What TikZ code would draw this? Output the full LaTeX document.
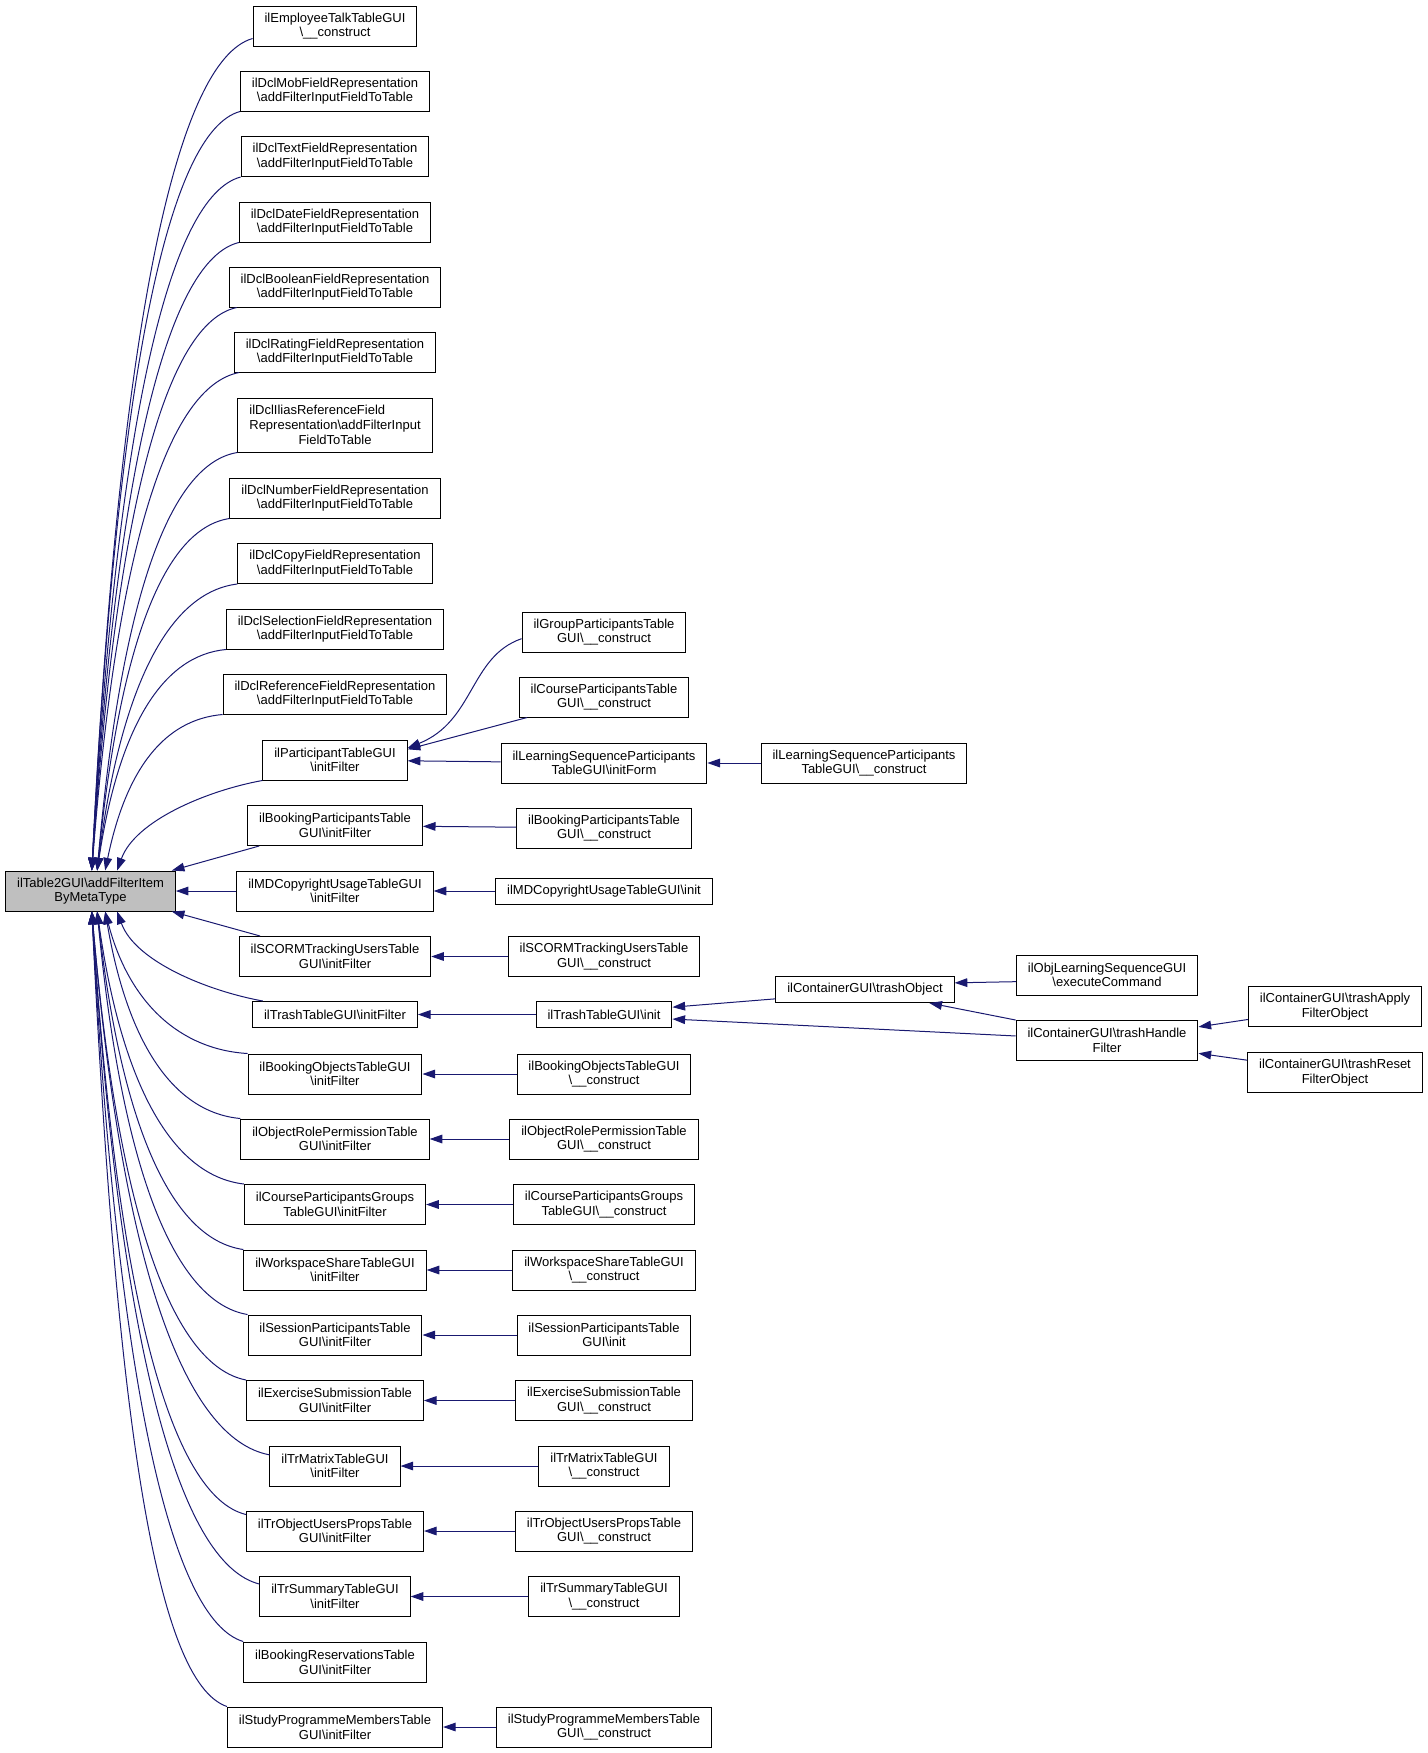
\documentclass[tikz,border=0pt]{standalone}
\usepackage{fontspec}
\setmainfont{Liberation Sans}
\usetikzlibrary{arrows.meta}
\definecolor{edgeblue}{HTML}{191970}
\definecolor{rootgray}{HTML}{BFBFBF}
\newcommand{\bsl}{\textbackslash}

\begin{document}
\begin{tikzpicture}
[
    x=0.75pt, y=-0.75pt,
    fn/.style={draw=black, line width=0.75pt, align=center, inner xsep=8.6pt, inner ysep=2pt, minimum height=30pt, font=\fontsize{9.75}{11}\selectfont},
    oneline/.style={fn, minimum height=19.5pt},
    current/.style={fn, fill=rootgray},
    call/.style={-{Triangle[length=9.5pt,width=6.5pt]}, draw=edgeblue, line width=0.75pt},
]
\useasboundingbox (0,0) rectangle (1428,1753);

\node [current] (root) at (90.5,891) {ilTable2GUI\bsl addFilterItem\\ByMetaType};

\node [fn] (employee) at (335,26) {ilEmployeeTalkTableGUI\\\bsl\_\_construct};
\node [fn] (dclmob) at (335,91) {ilDclMobFieldRepresentation\\\bsl addFilterInputFieldToTable};
\node [fn] (dcltext) at (335,156.5) {ilDclTextFieldRepresentation\\\bsl addFilterInputFieldToTable};
\node [fn] (dcldate) at (335,222) {ilDclDateFieldRepresentation\\\bsl addFilterInputFieldToTable};
\node [fn] (dclbool) at (335,287) {ilDclBooleanFieldRepresentation\\\bsl addFilterInputFieldToTable};
\node [fn] (dclrating) at (335,352) {ilDclRatingFieldRepresentation\\\bsl addFilterInputFieldToTable};
\node [fn, minimum height=40.5pt] (dclilias) at (335,425)
    {\rlap{ilDclIliasReferenceField}\phantom{Representation\bsl addFilterInput}\\Representation\bsl addFilterInput\\FieldToTable};
\node [fn] (dclnumber) at (335,498) {ilDclNumberFieldRepresentation\\\bsl addFilterInputFieldToTable};
\node [fn] (dclcopy) at (335,563.5) {ilDclCopyFieldRepresentation\\\bsl addFilterInputFieldToTable};
\node [fn] (dclselect) at (335,629) {ilDclSelectionFieldRepresentation\\\bsl addFilterInputFieldToTable};
\node [fn] (dclref) at (335,694) {ilDclReferenceFieldRepresentation\\\bsl addFilterInputFieldToTable};
\node [fn] (partinit) at (335,760) {ilParticipantTableGUI\\\bsl initFilter};
\node [fn] (bookpartinit) at (335,825.5) {ilBookingParticipantsTable\\GUI\bsl initFilter};
\node [fn] (mdinit) at (335,891) {ilMDCopyrightUsageTableGUI\\\bsl initFilter};
\node [fn] (scorminit) at (335,956.5) {ilSCORMTrackingUsersTable\\GUI\bsl initFilter};
\node [oneline] (trashinit) at (335,1014.5) {ilTrashTableGUI\bsl initFilter};
\node [fn] (bookobjinit) at (335,1074) {ilBookingObjectsTableGUI\\\bsl initFilter};
\node [fn] (roleinit) at (335,1139) {ilObjectRolePermissionTable\\GUI\bsl initFilter};
\node [fn] (crsgrpinit) at (335,1204.5) {ilCourseParticipantsGroups\\TableGUI\bsl initFilter};
\node [fn] (wspinit) at (335,1270) {ilWorkspaceShareTableGUI\\\bsl initFilter};
\node [fn] (sessinit) at (335,1335) {ilSessionParticipantsTable\\GUI\bsl initFilter};
\node [fn] (excinit) at (335,1400.5) {ilExerciseSubmissionTable\\GUI\bsl initFilter};
\node [fn] (trmatinit) at (335,1466) {ilTrMatrixTableGUI\\\bsl initFilter};
\node [fn] (trobjinit) at (335,1531) {ilTrObjectUsersPropsTable\\GUI\bsl initFilter};
\node [fn] (trsuminit) at (335,1596.5) {ilTrSummaryTableGUI\\\bsl initFilter};
\node [fn] (bookresinit) at (335,1662) {ilBookingReservationsTable\\GUI\bsl initFilter};
\node [fn] (prginit) at (335,1727) {ilStudyProgrammeMembersTable\\GUI\bsl initFilter};

\node [fn] (grpcon) at (604,632) {ilGroupParticipantsTable\\GUI\bsl\_\_construct};
\node [fn] (crscon) at (604,697) {ilCourseParticipantsTable\\GUI\bsl\_\_construct};
\node [fn] (lsform) at (604,763) {ilLearningSequenceParticipants\\TableGUI\bsl initForm};
\node [fn] (bookpartcon) at (604,828) {ilBookingParticipantsTable\\GUI\bsl\_\_construct};
\node [oneline] (mdcon) at (604,891) {ilMDCopyrightUsageTableGUI\bsl init};
\node [fn] (scormcon) at (604,956.5) {ilSCORMTrackingUsersTable\\GUI\bsl\_\_construct};
\node [oneline] (trashtinit) at (604,1014.5) {ilTrashTableGUI\bsl init};
\node [fn] (bookobjcon) at (604,1074) {ilBookingObjectsTableGUI\\\bsl\_\_construct};
\node [fn] (rolecon) at (604,1139) {ilObjectRolePermissionTable\\GUI\bsl\_\_construct};
\node [fn] (crsgrpcon) at (604,1204.5) {ilCourseParticipantsGroups\\TableGUI\bsl\_\_construct};
\node [fn] (wspcon) at (604,1270) {ilWorkspaceShareTableGUI\\\bsl\_\_construct};
\node [fn] (sesscon) at (604,1335) {ilSessionParticipantsTable\\GUI\bsl init};
\node [fn] (exccon) at (604,1400.5) {ilExerciseSubmissionTable\\GUI\bsl\_\_construct};
\node [fn] (trmatcon) at (604,1466) {ilTrMatrixTableGUI\\\bsl\_\_construct};
\node [fn] (trobjcon) at (604,1531) {ilTrObjectUsersPropsTable\\GUI\bsl\_\_construct};
\node [fn] (trsumcon) at (604,1596.5) {ilTrSummaryTableGUI\\\bsl\_\_construct};
\node [fn] (prgcon) at (604,1727) {ilStudyProgrammeMembersTable\\GUI\bsl\_\_construct};

\node [fn] (lscon) at (864,763) {ilLearningSequenceParticipants\\TableGUI\bsl\_\_construct};
\node [oneline] (trashobj) at (865,989.5) {ilContainerGUI\bsl trashObject};
\node [fn] (lsexec) at (1107,975) {ilObjLearningSequenceGUI\\\bsl executeCommand};
\node [fn] (trashhandle) at (1107,1040.5) {ilContainerGUI\bsl trashHandle\\Filter};
\node [fn] (trashapply) at (1335,1006.5) {ilContainerGUI\bsl trashApply\\FilterObject};
\node [fn] (trashreset) at (1335,1072.5) {ilContainerGUI\bsl trashReset\\FilterObject};

\draw [call] ([yshift=6pt]employee.south west) .. controls +(-77,22) and +(27,-541) .. ([xshift=1pt]root.north);
\draw [call] (dclmob.south west) .. controls +(-72,20) and +(25,-494) .. ([xshift=1pt]root.north);
\draw [call] (dcltext.south west) .. controls +(-71,19) and +(25,-452) .. ([xshift=1pt]root.north);
\draw [call] (dcldate.south west) .. controls +(-70,17) and +(25,-409) .. ([xshift=1pt]root.north);
\draw [call] ([xshift=6pt]dclbool.south west) .. controls +(-70,15) and +(25,-367) .. ([xshift=1pt]root.north);
\draw [call] ([xshift=4pt]dclrating.south west) .. controls +(-71,14) and +(25,-324) .. ([xshift=1pt]root.north);
\draw [call] (dclilias.south west) .. controls +(-68,11) and +(24,-272) .. ([xshift=5pt]root.north);
\draw [call] (dclnumber.south west) .. controls +(-65,10) and +(23,-229) .. ([xshift=5pt]root.north);
\draw [call] (dclcopy.south west) .. controls +(-67,8) and +(24,-188) .. ([xshift=5pt]root.north);
\draw [call] (dclselect.south west) .. controls +(-63,6) and +(22,-145) .. ([xshift=5pt]root.north);
\draw [call] (dclref.south west) .. controls +(-58,5) and +(21,-102) .. ([xshift=11pt]root.north);
\draw [call] (partinit.south west) .. controls +(-55,10) and +(18,-50) .. ([xshift=20pt]root.north);
\draw [call] ([xshift=9pt]bookpartinit.south west) -- ([xshift=-3pt]root.north east);
\draw [call] (mdinit) -- (root);
\draw [call] ([xshift=16pt]scorminit.north west) -- ([xshift=-3pt]root.south east);
\draw [call] ([xshift=8pt]trashinit.north west) .. controls +(-55,-10) and +(18,50) .. ([xshift=20pt]root.south);
\draw [call] (bookobjinit.north west) .. controls +(-67,-4) and +(24,92) .. ([xshift=11pt]root.south);
\draw [call] (roleinit.north west) .. controls +(-65,-6) and +(23,135) .. ([xshift=11pt]root.south);
\draw [call] (crsgrpinit.north west) .. controls +(-70,-8) and +(25,177) .. ([xshift=5pt]root.south);
\draw [call] (wspinit.north west) .. controls +(-70,-10) and +(25,220) .. ([xshift=5pt]root.south);
\draw [call] (sessinit.north west) .. controls +(-72,-12) and +(25,262) .. ([xshift=5pt]root.south);
\draw [call] (excinit.north west) .. controls +(-73,-14) and +(26,305) .. ([xshift=1pt]root.south);
\draw [call] ([yshift=-7pt]trmatinit.north west) .. controls +(-85,-16) and +(30,354) .. ([xshift=1pt]root.south);
\draw [call] ([yshift=-3pt]trobjinit.north west) .. controls +(-74,-18) and +(26,393) .. ([xshift=1pt]root.south);
\draw [call] ([yshift=-6pt]trsuminit.north west) .. controls +(-80,-20) and +(28,438) .. ([xshift=1pt]root.south);
\draw [call] (bookresinit.north west) .. controls +(-72,-22) and +(26,476) .. ([xshift=1pt]root.south);
\draw [call] (prginit.north west) .. controls +(-70,-24) and +(25,517) .. ([xshift=1pt]root.south);

\draw [call] ([yshift=-5pt]grpcon.west) .. controls +(-52,18) and +(67,-27) .. ([yshift=9pt]partinit.east);
\draw [call] (crscon) -- ([yshift=8pt]partinit.east);
\draw [call] (lsform) -- (partinit);
\draw [call] (lscon) -- (lsform);
\draw [call] (bookpartcon) -- (bookpartinit);
\draw [call] (mdcon) -- (mdinit);
\draw [call] (scormcon) -- (scorminit);
\draw [call] (trashtinit) -- (trashinit);
\draw [call] ([yshift=-7pt]trashobj.west) -- ([yshift=5.5pt]trashtinit.east);
\draw [call] ([yshift=3.4pt]trashhandle.west) -- ([yshift=-3.4pt]trashtinit.east);
\draw [call] ([yshift=-5pt]lsexec.west) -- ([yshift=5pt]trashobj.east);
\draw [call] (trashhandle.north west) -- ([xshift=-19pt]trashobj.south east);
\draw [call] (trashapply) -- (trashhandle);
\draw [call] (trashreset) -- (trashhandle);
\draw [call] (bookobjcon) -- (bookobjinit);
\draw [call] (rolecon) -- (roleinit);
\draw [call] (crsgrpcon) -- (crsgrpinit);
\draw [call] (wspcon) -- (wspinit);
\draw [call] (sesscon) -- (sessinit);
\draw [call] (exccon) -- (excinit);
\draw [call] (trmatcon) -- (trmatinit);
\draw [call] (trobjcon) -- (trobjinit);
\draw [call] (trsumcon) -- (trsuminit);
\draw [call] (prgcon) -- (prginit);
\end{tikzpicture}
\end{document}
